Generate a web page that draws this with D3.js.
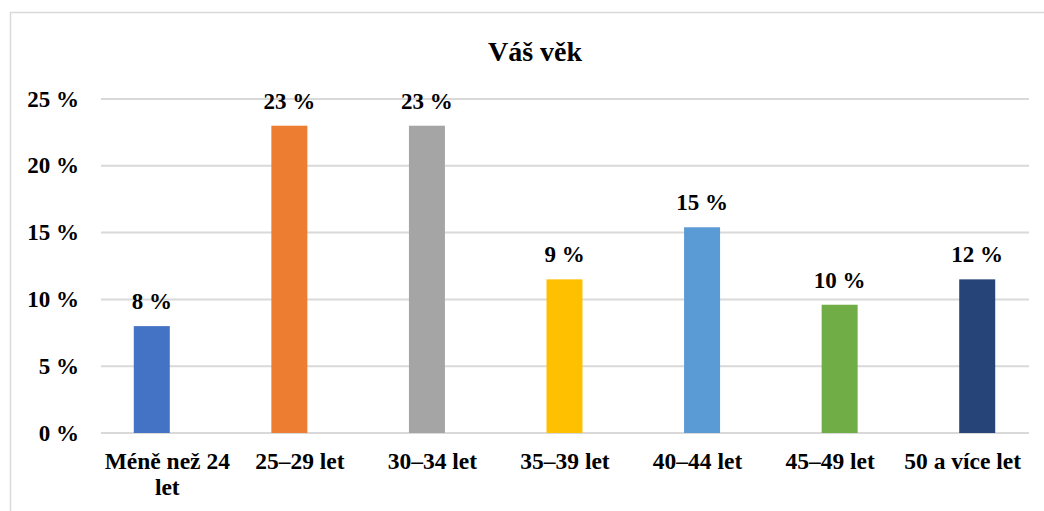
<!DOCTYPE html>
<html>
<head>
<meta charset="utf-8">
<script src="https://cdn.jsdelivr.net/npm/d3@7"></script>
<style>
  body { margin: 0; background: #fff; }
  svg { display: block; }
  svg text { font-family: "Liberation Serif", "Times New Roman", serif; font-weight: bold; fill: #000; }
</style>
</head>
<body>
<svg id="chart"></svg>
<script>
// data
const categories = ["Méně než 24 let", "25–29 let", "30–34 let", "35–39 let", "40–44 let", "45–49 let", "50 a více let"];
const values = [8, 23, 23, 11.5, 15.4, 9.6, 11.5];
const valueLabels = ["8 %", "23 %", "23 %", "9 %", "15 %", "10 %", "12 %"];
const colors = ["#4472C4", "#ED7D31", "#A5A5A5", "#FFC000", "#5B9BD5", "#70AD47", "#264478"];
const yTicks = [0, 5, 10, 15, 20, 25];

const width = 1044;
const height = 511;
const serif = "'Liberation Serif', 'Times New Roman', serif";

const svg = d3.select("#chart")
  .attr("width", width)
  .attr("height", height);

// chart area border (left and top only visible)
svg.append("path")
  .attr("d", "M10.5,511 V12.5 H1044")
  .attr("fill", "none")
  .attr("stroke", "#D9D9D9")
  .attr("stroke-width", 1.5);

// title
svg.append("text")
  .attr("x", 535)
  .attr("y", 61)
  .attr("text-anchor", "middle")
  .attr("font-family", serif)
  .attr("font-weight", "bold")
  .attr("font-size", 28)
  .text("Váš věk");

// scales
const yScale = d3.scaleLinear()
  .domain([0, 25])
  .range([433, 99]);

const gridLeft = 101;
const gridRight = 1029;

// category labels sit on the plot area bands
const xScale = d3.scaleBand()
  .domain(categories)
  .range([gridLeft, gridRight])
  .padding(0);

// bars in the picture are spaced a little wider than the labels
const barScale = d3.scaleBand()
  .domain(categories)
  .range([83, 1046])
  .padding(0);

const barWidth = 36;

// gridlines
svg.append("g")
  .selectAll("line")
  .data(yTicks)
  .join("line")
  .attr("x1", gridLeft)
  .attr("x2", gridRight)
  .attr("y1", d => yScale(d))
  .attr("y2", d => yScale(d))
  .attr("stroke", "#D9D9D9")
  .attr("stroke-width", 2);

// y axis labels
svg.append("g")
  .selectAll("text")
  .data(yTicks)
  .join("text")
  .attr("x", 79)
  .attr("y", d => yScale(d))
  .attr("dy", "0.33em")
  .attr("text-anchor", "end")
  .attr("font-family", serif)
  .attr("font-weight", "bold")
  .attr("font-size", 23)
  .text(d => d + " %");

// bars
svg.append("g")
  .selectAll("rect")
  .data(values)
  .join("rect")
  .attr("x", (d, i) => barScale(categories[i]) + barScale.bandwidth() / 2 - barWidth / 2)
  .attr("y", d => yScale(d))
  .attr("width", barWidth)
  .attr("height", d => yScale(0) - yScale(d))
  .attr("fill", (d, i) => colors[i]);

// value labels
svg.append("g")
  .selectAll("text")
  .data(values)
  .join("text")
  .attr("x", (d, i) => barScale(categories[i]) + barScale.bandwidth() / 2)
  .attr("y", d => yScale(d) - 17)
  .attr("text-anchor", "middle")
  .attr("font-family", serif)
  .attr("font-weight", "bold")
  .attr("font-size", 23)
  .text((d, i) => valueLabels[i]);

// category labels, wrapped like Excel does
const catLabels = svg.append("g")
  .selectAll("text")
  .data(categories)
  .join("text")
  .attr("x", d => xScale(d) + xScale.bandwidth() / 2)
  .attr("y", 469)
  .attr("text-anchor", "middle")
  .attr("font-family", serif)
  .attr("font-weight", "bold")
  .attr("font-size", 23.5);

catLabels.each(function(d) {
  const text = d3.select(this);
  const words = d.split(" ");
  const x = text.attr("x");
  let line = [];
  let tspan = text.append("tspan").attr("x", x).attr("dy", 0);
  words.forEach(w => {
    line.push(w);
    tspan.text(line.join(" "));
    if (tspan.node().getComputedTextLength() > 130 && line.length > 1) {
      line.pop();
      tspan.text(line.join(" "));
      line = [w];
      tspan = text.append("tspan").attr("x", x).attr("dy", 26).text(w);
    }
  });
});
</script>
</body>
</html>
